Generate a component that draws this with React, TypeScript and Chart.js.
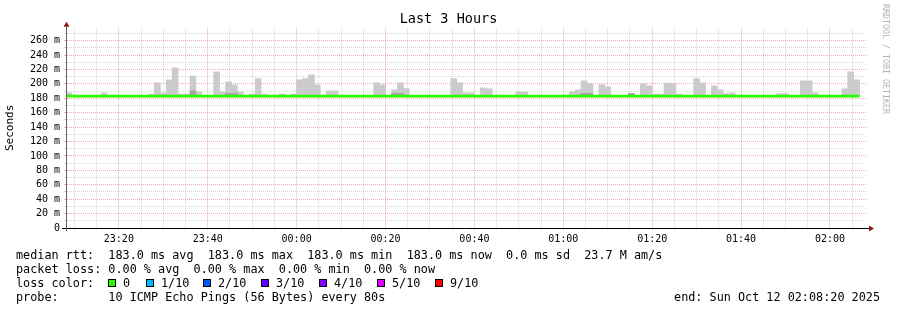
import React, { useEffect, useRef } from 'react';
import { Chart, registerables } from 'chart.js';

Chart.register(...registerables);

const FONT = '"DejaVu Sans Mono", "Liberation Mono", monospace';

// ---- time axis (minutes after 23:00) ----
const viewStartMin = 8 + 20 / 60; // 23:08:20
const viewEndMin = 188 + 20 / 60; // 02:08:20
const firstBinStartMin = 8; // 23:08:00
const binMinutes = 80 / 60; // 80 s step

// ---- data (one entry per 80 s bin) ----
const medianRtt = [
  183, 183, 183, 183, 183, 183, 183, 183, 183, 183,
  183, 183, 183, 183, 183, 183, 183, 183, 183, 183,
  183, 183, 183, 183, 183, 183, 183, 183, 183, 183,
  183, 183, 183, 183, 183, 183, 183, 183, 183, 183,
  183, 183, 183, 183, 183, 183, 183, 183, 183, 183,
  183, 183, 183, 183, 183, 183, 183, 183, 183, 183,
  183, 183, 183, 183, 183, 183, 183, 183, 183, 183,
  183, 183, 183, 183, 183, 183, 183, 183, 183, 183,
  183, 183, 183, 183, 183, 183, 183, 183, 183, 183,
  183, 183, 183, 183, 183, 183, 183, 183, 183, 183,
  183, 183, 183, 183, 183, 183, 183, 183, 183, 183,
  183, 183, 183, 183, 183, 183, 183, 183, 183, 183,
  183, 183, 183, 183, 183, 183, 183, 183, 183, 183,
  183, 183, 183, 183,
];

const smokeMax: (number | null)[] = [
  187.5, null, null, null, null, null, 187.5, null, null, null,
  null, null, null, null, 185.7, 201.4, 187.5, 205.5, 222.2, 185.7,
  185.7, 211, 189, null, null, 216.6, 189, 202.8, 198.6, 189,
  null, 185.7, 207.4, 185.7, null, null, 185.7, null, 185.7, 205.5,
  207.4, 212.5, 198.6, null, 190.3, 190.3, null, null, null, null,
  null, null, 201.4, 198.6, null, 191.6, 201.4, 193.5, null, null,
  null, null, null, null, null, 207.4, 201.4, 187.5, 187.5, null,
  194.5, 193, null, null, null, null, 189, 189, null, null,
  null, null, null, null, null, 189, 191.6, 204.2, 200, null,
  199, 195.8, null, null, null, 187, null, 200, 197.2, 186,
  186, 201, 200, 186, null, null, 207.4, 201.4, null, 197.2,
  191.6, 186.6, 187.5, null, null, null, null, null, null, null,
  186.6, 186.6, null, null, 204.2, 204.2, 187.5, null, null, null,
  null, 193, 216.6, 205.5,
];

const smokeInner: (number | null)[] = [
  null, null, null, null, null, null, null, null, null, null,
  null, null, null, null, null, null, null, null, null, null,
  null, 190.5, null, null, null, null, null, 187, 187, null,
  null, null, null, null, null, null, null, null, null, null,
  null, null, null, null, null, null, null, null, null, null,
  null, null, null, null, null, 187, 187, null, null, null,
  null, null, null, null, null, null, null, null, null, null,
  null, null, null, null, null, null, null, null, null, null,
  null, null, null, null, null, null, null, 187, 187, null,
  null, null, null, null, null, 187, null, null, null, null,
  null, null, null, null, null, null, null, null, null, null,
  null, null, null, null, null, null, null, null, null, null,
  null, null, null, null, null, null, null, null, null, null,
  null, null, null, null,
];

// ---- ticks ----
const xTickMinutes = [
  10, 15, 20, 25, 30, 35, 40, 45, 50, 55, 60, 65, 70, 75, 80, 85, 90, 95,
  100, 105, 110, 115, 120, 125, 130, 135, 140, 145, 150, 155, 160, 165, 170,
  175, 180, 185,
];
const yTickValues = [0, 10, 20, 30, 40, 50, 60, 70, 80, 90, 100, 110, 120, 130, 140, 150, 160, 170, 180, 190, 200, 210, 220, 230, 240, 250, 260, 270];
const yMax = 278;

const legendLines = [
  'median rtt:  183.0 ms avg  183.0 ms max  183.0 ms min  183.0 ms now  0.0 ms sd  23.7 M am/s',
  'packet loss: 0.00 % avg  0.00 % max  0.00 % min  0.00 % now',
  'loss color:',
  'probe:       10 ICMP Echo Pings (56 Bytes) every 80s',
];
const lossLabels = ['0', '1/10', '2/10', '3/10', '4/10', '5/10', '9/10'];
const lossColors = ['#26ff00', '#00b8ff', '#0059ff', '#5e00ff', '#7e00ff', '#dd00ff', '#ff0000'];
const endText = 'end: Sun Oct 12 02:08:20 2025';

// layout only
const lossBoxX = [108, 146, 203, 261, 319, 377, 435];

const RED = 'rgba(240, 90, 90, 0.5)';
const GREY = 'rgba(160, 160, 160, 0.42)';

const binStart = (i: number) => firstBinStartMin + i * binMinutes;
const binCenter = (i: number) => binStart(i) + binMinutes / 2;

const fmtTime = (m: number) => {
  const h = (23 + Math.floor(m / 60)) % 24;
  const mm = Math.round(m % 60);
  return `${String(h).padStart(2, '0')}:${String(mm).padStart(2, '0')}`;
};

const rrdAxes = {
  id: 'rrdAxes',
  afterDraw(chart: any) {
    const { ctx, chartArea } = chart;
    const { left, right, top, bottom } = chartArea;
    const ax = Math.floor(left) - 0.5;
    const ay = Math.floor(bottom) + 0.5;
    ctx.save();
    ctx.lineWidth = 1;
    ctx.strokeStyle = '#000';
    ctx.beginPath();
    ctx.moveTo(left - 5, ay);
    ctx.lineTo(right + 2, ay);
    ctx.stroke();
    ctx.strokeStyle = '#606060';
    ctx.beginPath();
    ctx.moveTo(ax, bottom + 3);
    ctx.lineTo(ax, top - 2);
    ctx.stroke();
    ctx.fillStyle = '#8b1c1c';
    ctx.beginPath();
    ctx.moveTo(ax, top - 6);
    ctx.lineTo(ax - 3, top - 1);
    ctx.lineTo(ax + 3, top - 1);
    ctx.closePath();
    ctx.fill();
    ctx.beginPath();
    ctx.moveTo(right + 7, ay);
    ctx.lineTo(right + 2, ay - 3);
    ctx.lineTo(right + 2, ay + 3);
    ctx.closePath();
    ctx.fill();
    ctx.restore();
  },
};

export default function App() {
  const ref = useRef<HTMLCanvasElement | null>(null);

  useEffect(() => {
    if (!ref.current) return;
    const smokeData: any[] = [];
    const innerData: any[] = [];
    smokeMax.forEach((v, i) => {
      if (v != null) smokeData.push({ x: binCenter(i), y: [medianRtt[i], v] });
    });
    smokeInner.forEach((v, i) => {
      if (v != null) innerData.push({ x: binCenter(i), y: [medianRtt[i], v] });
    });
    const medianData = medianRtt.map((v, i) => ({ x: binStart(i), y: v }));
    medianData.push({ x: binStart(medianRtt.length), y: medianRtt[medianRtt.length - 1] });

    const chart = new Chart(ref.current, {
      type: 'bar',
      data: {
        datasets: [
          {
            type: 'bar',
            label: 'smoke',
            data: smokeData,
            backgroundColor: '#cbcbcb',
            borderWidth: 0,
            barPercentage: 1,
            categoryPercentage: 1,
            grouped: false,
            order: 3,
          } as any,
          {
            type: 'bar',
            label: 'smoke inner',
            data: innerData,
            backgroundColor: '#a4a4a4',
            borderWidth: 0,
            barPercentage: 1,
            categoryPercentage: 1,
            grouped: false,
            order: 2,
          } as any,
          {
            type: 'line',
            label: 'median rtt',
            data: medianData,
            borderColor: '#26ff00',
            borderWidth: 2.6,
            pointRadius: 0,
            stepped: 'after',
            order: 1,
          } as any,
        ],
      },
      options: {
        responsive: false,
        devicePixelRatio: 1,
        animation: false,
        events: [],
        layout: { padding: { left: 0, right: 0, top: 0, bottom: 0 } },
        plugins: {
          legend: { display: false },
          tooltip: { enabled: false },
          title: {
            display: true,
            text: 'Last 3 Hours',
            color: '#000',
            font: { family: FONT, size: 13.5, weight: 'normal' as any },
            padding: { top: 11, bottom: 0.5 },
          },
        },
        scales: {
          x: {
            type: 'linear',
            offset: false,
            min: viewStartMin,
            max: viewEndMin,
            afterBuildTicks: (axis: any) => {
              axis.ticks = xTickMinutes.map((v) => ({ value: v }));
            },
            afterFit: (scale: any) => {
              scale.height = 82;
            },
            ticks: {
              autoSkip: false,
              maxRotation: 0,
              padding: 3,
              color: '#000',
              font: { family: FONT, size: 10 },
              callback: (v: any) => (Number(v) % 20 === 0 ? fmtTime(Number(v)) : ''),
            },
            grid: {
              offset: false,
              color: (c: any) => (c.tick && c.tick.value % 20 === 0 ? RED : GREY),
              tickColor: (c: any) => (c.tick && c.tick.value % 20 === 0 ? RED : GREY),
              tickLength: 2,
              lineWidth: 1,
            },
            border: { display: false, dash: [1, 1] },
          },
          y: {
            type: 'linear',
            position: 'left',
            min: 0,
            max: yMax,
            afterBuildTicks: (axis: any) => {
              axis.ticks = yTickValues.map((v) => ({ value: v }));
            },
            afterFit: (scale: any) => {
              scale.width = 67;
            },
            ticks: {
              autoSkip: false,
              padding: 4,
              color: '#000',
              font: { family: FONT, size: 10 },
              callback: (v: any) => {
                const n = Number(v);
                if (n % 20 !== 0) return '';
                return n === 0 ? '0' : `${n} m`;
              },
            },
            grid: {
              color: (c: any) => (c.tick && c.tick.value % 20 === 0 ? RED : GREY),
              tickColor: (c: any) => (c.tick && c.tick.value % 20 === 0 ? RED : GREY),
              tickLength: 3,
              lineWidth: 1,
            },
            border: { display: false, dash: [1, 1] },
            title: {
              display: true,
              text: 'Seconds',
              color: '#000',
              font: { family: FONT, size: 11 },
              padding: { top: 4, bottom: 0 },
            },
          },
          yRight: {
            type: 'linear',
            position: 'right',
            axis: 'y',
            min: 0,
            max: yMax,
            afterFit: (scale: any) => {
              scale.width = 30;
            },
            ticks: { display: false },
            grid: { display: false, drawTicks: false },
            border: { display: false },
          },
        },
      },
      plugins: [rrdAxes],
    } as any);
    return () => chart.destroy();
  }, []);

  const textStyle: React.CSSProperties = {
    position: 'absolute',
    left: 16,
    fontFamily: FONT,
    fontSize: '11.8px',
    lineHeight: '14px',
    whiteSpace: 'pre',
    color: '#000',
  };

  return (
    <div style={{ position: 'absolute', left: 0, top: 0, width: 897, height: 310, background: '#fff', overflow: 'hidden' }}>
      <canvas ref={ref} width={897} height={310} style={{ display: 'block', width: 897, height: 310 }} />
      {legendLines.map((t, i) => (
        <div key={i} style={{ ...textStyle, top: 248 + i * 14 }}>{t}</div>
      ))}
      {lossLabels.map((lab, i) => (
        <React.Fragment key={lab}>
          <div
            style={{
              position: 'absolute',
              left: lossBoxX[i],
              top: 279,
              width: 8,
              height: 8,
              boxSizing: 'border-box',
              border: '1px solid #000',
              background: lossColors[i],
            }}
          />
          <div style={{ ...textStyle, left: lossBoxX[i] + 15, top: 248 + 2 * 14 }}>{lab}</div>
        </React.Fragment>
      ))}
      <div style={{ ...textStyle, left: 'auto', right: 17, top: 248 + 3 * 14 }}>{endText}</div>
      <div
        style={{
          position: 'absolute',
          left: 881,
          top: 4,
          writingMode: 'vertical-rl',
          fontFamily: FONT,
          fontSize: '8.3px',
          lineHeight: '10px',
          color: '#b4b4b4',
          whiteSpace: 'pre',
        }}
      >
        RRDTOOL / TOBI OETIKER
      </div>
    </div>
  );
}
